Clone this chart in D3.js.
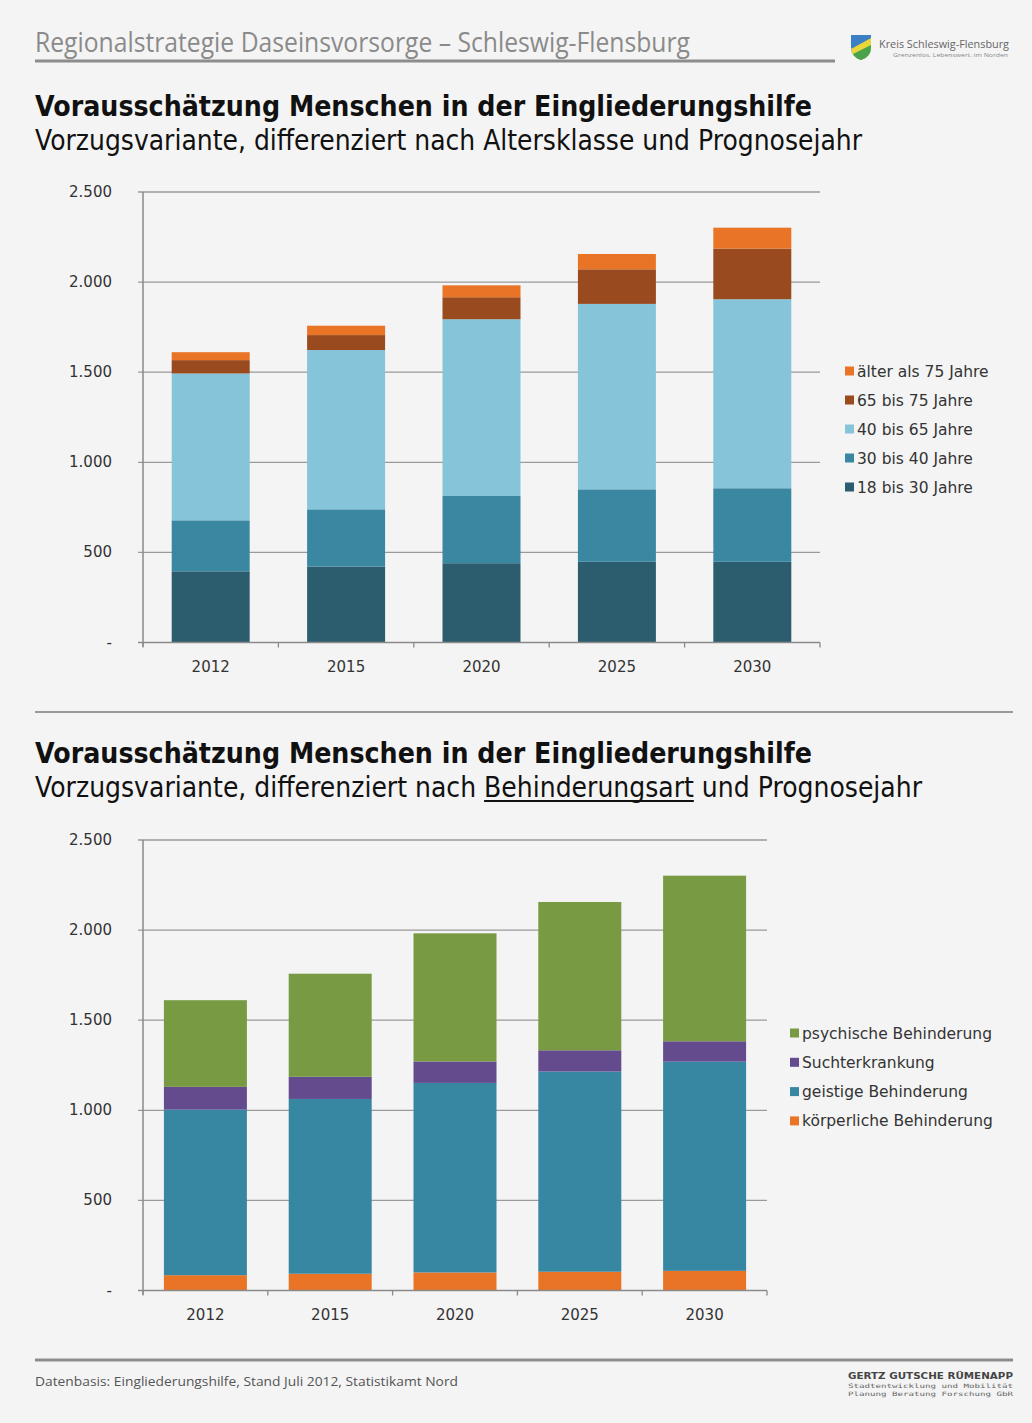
<!DOCTYPE html>
<html lang="de">
<head>
<meta charset="utf-8">
<title>Vorausschätzung Menschen in der Eingliederungshilfe</title>
<script src="https://cdn.jsdelivr.net/npm/d3@7"></script>
<style>
  html, body { margin: 0; padding: 0; background: #f4f4f4; }
  svg { display: block; }
</style>
</head>
<body>
<script>
// ---- Data ----
const years = ["2012", "2015", "2020", "2025", "2030"];

// Chart 1: by age group (stack order bottom -> top)
const ageGroups = ["18 bis 30 Jahre", "30 bis 40 Jahre", "40 bis 65 Jahre", "65 bis 75 Jahre", "älter als 75 Jahre"];
const age18to30 = [395, 421, 440, 448, 448];
const age30to40 = [283, 318, 373, 402, 408];
const age40to65 = [815, 884, 981, 1029, 1049];
const age65to75 = [74, 83, 122, 192, 281];
const ageOver75 = [44, 52, 66, 85, 116];

// Chart 2: by type of disability (stack order bottom -> top)
const disabilityTypes = ["körperliche Behinderung", "geistige Behinderung", "Suchterkrankung", "psychische Behinderung"];
const koerperlich = [85, 93, 100, 104, 109];
const geistig = [919, 970, 1052, 1111, 1161];
const sucht = [126, 123, 119, 118, 113];
const psychisch = [481, 572, 711, 823, 919];

const yTicks = [0, 500, 1000, 1500, 2000, 2500];

// ---- Setup ----
const W = 1032, H = 1423;
const svg = d3.select("body").append("svg").attr("width", W).attr("height", H);
svg.append("rect").attr("width", W).attr("height", H).attr("fill", "#f4f4f4");

const fontUI = "Tahoma, 'DejaVu Sans', 'Open Sans', sans-serif";
const locale = d3.formatLocale({ decimal: ",", thousands: ".", grouping: [3], currency: ["", " €"] });
const fmt = v => v === 0 ? "-" : locale.format(",")(v);

// ---- Header ----
svg.append("text").attr("x", 35).attr("y", 52)
  .attr("font-family", "'Open Sans', sans-serif").attr("font-size", 27).attr("fill", "#8a8a8a")
  .attr("textLength", 655).attr("lengthAdjust", "spacingAndGlyphs")
  .text("Regionalstrategie Daseinsvorsorge – Schleswig-Flensburg");
svg.append("line").attr("x1", 35).attr("x2", 835).attr("y1", 61).attr("y2", 61)
  .attr("stroke", "#8c8c8c").attr("stroke-width", 3);

// County logo: shield + name
const logo = svg.append("g").attr("transform", "translate(851,35)");
logo.append("path").attr("d", "M0,0 H20 V12 Q20,22 10,25 Q0,22 0,12 Z").attr("fill", "#3b7fc4");
logo.append("path").attr("d", "M0,14 L20,3 V12 Q20,22 10,25 Q0,22 0,12 Z").attr("fill", "#e9d63a");
logo.append("path").attr("d", "M2,19 L20,10 V12 Q20,22 10,25 Q4,23 2,19 Z").attr("fill", "#4aa24a");
logo.append("text").attr("x", 28).attr("y", 13).attr("font-family", "'Open Sans', sans-serif")
  .attr("font-size", 10.5).attr("fill", "#666").attr("textLength", 130).attr("lengthAdjust", "spacingAndGlyphs")
  .text("Kreis Schleswig-Flensburg");
logo.append("text").attr("x", 42).attr("y", 22).attr("font-family", "'Open Sans', sans-serif")
  .attr("font-size", 6).attr("fill", "#888").attr("textLength", 115).attr("lengthAdjust", "spacingAndGlyphs")
  .text("Grenzenlos. Lebenswert. im Norden");

// ---- Titles ----
function titleBlock(yTitle, ySub, subText, subLen, underlineWord) {
  svg.append("text").attr("x", 35).attr("y", yTitle)
    .attr("font-family", "'DejaVu Sans', sans-serif").attr("font-weight", "bold")
    .attr("font-size", 29).attr("fill", "#111")
    .attr("textLength", 777).attr("lengthAdjust", "spacingAndGlyphs")
    .text("Vorausschätzung Menschen in der Eingliederungshilfe");
  const t = svg.append("text").attr("x", 35).attr("y", ySub)
    .attr("font-family", "'DejaVu Sans', sans-serif").attr("font-size", 28).attr("fill", "#111")
    .attr("textLength", subLen).attr("lengthAdjust", "spacingAndGlyphs")
    .text(subText);
  if (underlineWord) {
    // underline one word, using the laid-out glyph positions
    const node = t.node();
    const i0 = subText.indexOf(underlineWord);
    const i1 = i0 + underlineWord.length - 1;
    const xa = node.getStartPositionOfChar(i0).x;
    const xb = node.getEndPositionOfChar(i1).x;
    svg.append("line").attr("x1", xa).attr("x2", xb)
      .attr("y1", ySub + 4).attr("y2", ySub + 4)
      .attr("stroke", "#111").attr("stroke-width", 1.8);
  }
}
titleBlock(116, 150, "Vorzugsvariante, differenziert nach Altersklasse und Prognosejahr", 827);
titleBlock(763, 797, "Vorzugsvariante, differenziert nach Behinderungsart und Prognosejahr", 887, "Behinderungsart");

// Separators
svg.append("line").attr("x1", 35).attr("x2", 1013).attr("y1", 712).attr("y2", 712)
  .attr("stroke", "#9a9a9a").attr("stroke-width", 2);
svg.append("line").attr("x1", 35).attr("x2", 1013).attr("y1", 1360).attr("y2", 1360)
  .attr("stroke", "#8c8c8c").attr("stroke-width", 3);

// ---- Stacked bar chart ----
function stackedChart(opt) {
  const g = svg.append("g");
  const x = d3.scaleBand().domain(years).range([opt.x0, opt.x1])
    .paddingInner(opt.padInner).paddingOuter(opt.padInner / 2);
  const y = d3.scaleLinear().domain([0, 2500]).range([opt.yBottom, opt.yTop]);

  // gridlines
  g.append("g").selectAll("line").data(yTicks.slice(1)).join("line")
    .attr("x1", opt.x0 - 5).attr("x2", opt.x1)
    .attr("y1", d => y(d)).attr("y2", d => y(d))
    .attr("stroke", "#9a9a9a").attr("stroke-width", 1.3);

  // y tick labels
  g.append("g").selectAll("text").data(yTicks).join("text")
    .attr("x", 112).attr("y", d => y(d) + 5).attr("text-anchor", "end")
    .attr("font-family", fontUI).attr("font-size", 15).attr("fill", "#333")
    .text(fmt);

  // bars
  const rows = years.map((yr, i) => {
    const r = { year: yr };
    opt.keys.forEach((k, j) => r[k] = opt.series[j][i]);
    return r;
  });
  const stacked = d3.stack().keys(opt.keys)(rows);
  g.append("g").selectAll("g").data(stacked).join("g")
    .attr("fill", (d, i) => opt.colors[i])
    .selectAll("rect").data(d => d).join("rect")
    .attr("x", d => x(d.data.year))
    .attr("width", x.bandwidth())
    .attr("y", d => y(d[1]))
    .attr("height", d => y(d[0]) - y(d[1]));

  // y axis line
  g.append("line").attr("x1", opt.x0).attr("x2", opt.x0)
    .attr("y1", y(2500)).attr("y2", y(0) + 4)
    .attr("stroke", "#8a8a8a").attr("stroke-width", 1.5);
  // x axis line + category separators
  g.append("line").attr("x1", opt.x0 - 5).attr("x2", opt.x1)
    .attr("y1", y(0)).attr("y2", y(0)).attr("stroke", "#8a8a8a").attr("stroke-width", 1.5);
  const step = x.step();
  g.append("g").selectAll("line").data(d3.range(years.length + 1)).join("line")
    .attr("x1", i => opt.x0 + i * step).attr("x2", i => opt.x0 + i * step)
    .attr("y1", y(0)).attr("y2", y(0) + 5)
    .attr("stroke", "#8a8a8a").attr("stroke-width", 1.3);

  // x labels
  g.append("g").selectAll("text").data(years).join("text")
    .attr("x", d => x(d) + x.bandwidth() / 2).attr("y", y(0) + 29)
    .attr("text-anchor", "middle").attr("font-family", fontUI).attr("font-size", 15).attr("fill", "#333")
    .text(d => d);

  // legend (top entry = last series)
  const leg = g.append("g");
  const items = opt.keys.map((k, i) => ({ k, c: opt.colors[i] })).reverse();
  items.forEach((it, i) => {
    const cy = opt.legY + i * opt.legStep;
    leg.append("rect").attr("x", opt.legX).attr("y", cy - 4.5).attr("width", 9).attr("height", 9).attr("fill", it.c);
    leg.append("text").attr("x", opt.legX + 12).attr("y", cy + 5.5)
      .attr("font-family", fontUI).attr("font-size", 15.5).attr("fill", "#333").text(it.k);
  });
}

stackedChart({
  x0: 143, x1: 820, yTop: 192, yBottom: 642.5, padInner: 0.424,
  keys: ageGroups,
  series: [age18to30, age30to40, age40to65, age65to75, ageOver75],
  colors: ["#2c5d6e", "#3a87a1", "#86c4d9", "#9a4a1f", "#ea7425"],
  legX: 845, legY: 371, legStep: 29
});

stackedChart({
  x0: 143, x1: 767, yTop: 840, yBottom: 1290.5, padInner: 0.335,
  keys: disabilityTypes,
  series: [koerperlich, geistig, sucht, psychisch],
  colors: ["#ea7425", "#3887a2", "#634b8e", "#779a43"],
  legX: 790, legY: 1033, legStep: 29.3
});

// ---- Footer ----
svg.append("text").attr("x", 35).attr("y", 1386)
  .attr("font-family", "'Open Sans', sans-serif").attr("font-size", 12.5).attr("fill", "#555")
  .attr("textLength", 423).attr("lengthAdjust", "spacingAndGlyphs")
  .text("Datenbasis: Eingliederungshilfe, Stand Juli 2012, Statistikamt Nord");
svg.append("text").attr("x", 848).attr("y", 1379)
  .attr("font-family", "'DejaVu Sans', sans-serif").attr("font-weight", "bold").attr("font-size", 8.5)
  .attr("fill", "#444").attr("textLength", 165).attr("lengthAdjust", "spacingAndGlyphs")
  .text("GERTZ GUTSCHE RÜMENAPP");
svg.append("text").attr("x", 848).attr("y", 1388)
  .attr("font-family", "'DejaVu Sans Mono', monospace").attr("font-size", 6).attr("fill", "#666")
  .attr("textLength", 165).attr("lengthAdjust", "spacingAndGlyphs")
  .text("Stadtentwicklung und Mobilität");
svg.append("text").attr("x", 848).attr("y", 1396)
  .attr("font-family", "'DejaVu Sans Mono', monospace").attr("font-size", 6).attr("fill", "#666")
  .attr("textLength", 165).attr("lengthAdjust", "spacingAndGlyphs")
  .text("Planung Beratung Forschung GbR");
</script>
</body>
</html>
